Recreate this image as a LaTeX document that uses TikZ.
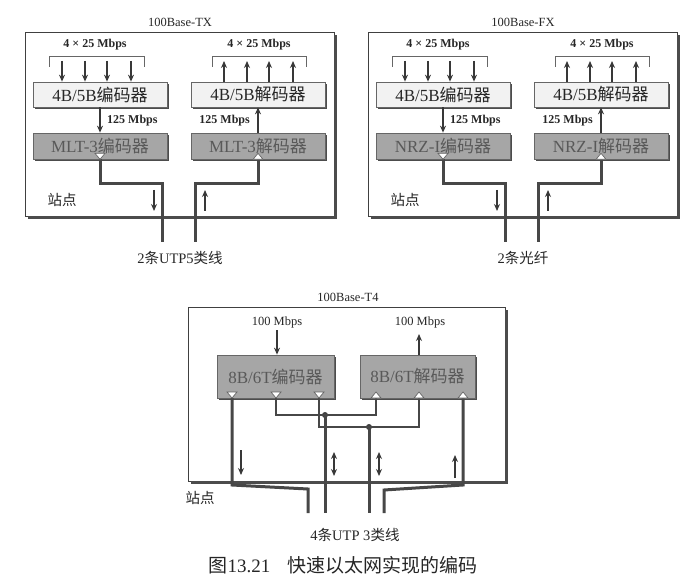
\documentclass[tikz,border=0pt]{standalone}
\usepackage{fontspec}
\setmainfont{Liberation Serif}
\newfontfamily\cjk{Noto Sans CJK SC}
\usetikzlibrary{arrows.meta,shadows}
\tikzset{
  framebox/.style={draw=black!75, line width=0.9pt},
  frameshadow/.style={draw=black!70, line width=2.4pt},
  boxbase/.style={draw=black!60, line width=0.7pt, inner sep=0pt,
     drop shadow={shadow xshift=1.8pt, shadow yshift=-1.8pt, fill=black!70, opacity=1},
     font=\fontsize{17}{20}\selectfont},
  lightbox/.style={boxbase, fill=black!5, text=black!85},
  darkbox/.style={boxbase, fill=black!35, text=black!65},
  rate/.style={font=\fontsize{12}{14}\selectfont\bfseries, text=black!85, inner sep=1pt},
  ratereg/.style={font=\fontsize{12.5}{14}\selectfont, text=black!85, inner sep=1pt},
  ttl/.style={font=\fontsize{12.5}{14}\selectfont, text=black!85, inner sep=1pt},
  lab/.style={font=\fontsize{14.5}{17}\selectfont, text=black!85, inner sep=1pt},
  captext/.style={font=\fontsize{19}{22}\selectfont, text=black!85, inner sep=1pt},
  bracket/.style={draw=black!60, line width=0.7pt},
  sarrow/.style={draw=black!78, line width=1.6pt, -{Stealth[length=7pt,width=6pt]}},
  darrow/.style={draw=black!78, line width=1.6pt, {Stealth[length=7pt,width=6pt]}-{Stealth[length=7pt,width=6pt]}},
  wire/.style={draw=black!72, line width=3pt},
  mwire/.style={draw=black!72, line width=1.9pt},
  tri/.style={draw=black!60, fill=white, line width=0.7pt},
  jdot/.style={circle, fill=black!75, inner sep=0pt, minimum size=6pt}
}
\newcommand{\fepanel}[5]{%
\begin{scope}[xshift=#2pt]
  \node[ttl] (#1title) at (180,22) {#3};
  \node[framebox, minimum width=309pt, minimum height=184pt, inner sep=0pt] (#1frame) at (179.5,124) {};
  \draw[frameshadow] (28,217.4) -- (335.4,217.4) -- (335.4,35);
  \node[rate] (#1inlab) at (95,45) {4 × 25 Mbps};
  \node[rate] (#1outlab) at (259,45) {4 × 25 Mbps};
  \draw[bracket] (49,67) -- (49,56) -- (144,56) -- (144,67);
  \draw[bracket] (212,67) -- (212,56) -- (306,56) -- (306,67);
  \node[lightbox, minimum width=134pt, minimum height=25pt] (#1enc) at (100,94.5) {4B/5B{\cjk 编码器}};
  \node[lightbox, minimum width=134pt, minimum height=25pt] (#1dec) at (258,94.5) {4B/5B{\cjk 解码器}};
  \node[darkbox, minimum width=134pt, minimum height=26pt] (#1lenc) at (100,146) {#4{\cjk 编码器}};
  \node[darkbox, minimum width=134pt, minimum height=26pt] (#1ldec) at (258,146) {#4{\cjk 解码器}};
  \foreach \x in {62,85,107,131} \draw[sarrow] (\x,61) -- (\x,62 |- #1enc.north);
  \foreach \x in {224,247,269,293} \draw[sarrow] (\x,62 |- #1dec.north) -- (\x,61);
  \draw[sarrow] (#1enc.south) -- (#1lenc.north);
  \draw[sarrow] (#1ldec.north) -- (#1dec.south);
  \node[rate, anchor=west] (#1r1) at (106,121) {125 Mbps};
  \node[rate, anchor=east] (#1r2) at (251,121) {125 Mbps};
  \coordinate (#1ca) at (162,242);
  \coordinate (#1cb) at (195,242);
  \draw[wire] (#1lenc.south) -- ++(0,24) -| (#1ca);
  \draw[wire] (#1ldec.south) -- ++(0,24) -| (#1cb);
  \draw[tri] (#1lenc.south) -- ++(-5,-6) -- ++(10,0) -- cycle;
  \draw[tri] ([xshift=-5pt]#1ldec.south) -- ([xshift=5pt]#1ldec.south) -- ([yshift=6pt]#1ldec.south) -- cycle;
  \draw[sarrow] (154,190) -- (154,211);
  \draw[sarrow] (205,211) -- (205,190);
  \node[lab] (#1st) at (62,200) {\cjk 站点};
  \node[lab] (#1cable) at (180,258) {#5};
\end{scope}}
\begin{document}
\begin{tikzpicture}[x=1pt,y=-1pt]
\useasboundingbox[fill=white] (0,0) rectangle (695,585);
\fepanel{tx}{0}{100Base-TX}{MLT-3}{2{\cjk 条}UTP5{\cjk 类线}}
\fepanel{fx}{343}{100Base-FX}{NRZ-I}{2{\cjk 条光纤}}
% 100Base-T4
\node[ttl] (t4title) at (348,297) {100Base-T4};
\node[framebox, minimum width=317pt, minimum height=174pt, inner sep=0pt] (t4frame) at (346.5,394) {};
\draw[frameshadow] (191,482.4) -- (506.4,482.4) -- (506.4,310);
\node[ratereg] (t4in) at (277,322) {100 Mbps};
\node[ratereg] (t4out) at (420,322) {100 Mbps};
\node[darkbox, minimum width=117pt, minimum height=43pt] (t4enc) at (275.5,376.5) {8B/6T{\cjk 编码器}};
\node[darkbox, minimum width=115pt, minimum height=43pt] (t4dec) at (417.5,376.5) {8B/6T{\cjk 解码器}};
\draw[sarrow] (277,330) -- (277,330 |- t4enc.north);
\draw[sarrow] (419,330 |- t4dec.north) -- (419,334);
% junctions and cable ends
\node[jdot] (j1) at (325,415) {};
\node[jdot] (j2) at (369,427) {};
\coordinate (c1) at (308,513);
\coordinate (c2) at (325,513);
\coordinate (c3) at (369,513);
\coordinate (c4) at (384,513);
\draw[mwire] (276,398) -- (276,415) -- (376,415) -- (376,398);
\draw[mwire] (319,398) -- (319,427) -- (419,427) -- (419,398);
\draw[wire] (j1.center) -- (c2);
\draw[wire] (j2.center) -- (c3);
\draw[wire] (232,398) -- (232,485) -- (308,489) -- (c1);
\draw[wire] (463,398) -- (463,485) -- (384,490) -- (c4);
\foreach \x in {232,276,319} \draw[tri] (\x,398) -- ++(-5,-6) -- ++(10,0) -- cycle;
\foreach \x in {376,419,463} \draw[tri] (\x-5,398) -- (\x+5,398) -- (\x,392) -- cycle;
\draw[sarrow] (241,450) -- (241,475);
\draw[darrow] (334,452) -- (334,476);
\draw[darrow] (379,452) -- (379,476);
\draw[sarrow] (455,478) -- (455,455);
\node[lab] (t4st) at (200,498) {\cjk 站点};
\node[lab] (t4cable) at (355,535) {4{\cjk 条}UTP 3{\cjk 类线}};
\node[captext] (caption) at (343,565) {{\cjk 图}13.21\hspace{0.9em}{\cjk 快速以太网实现的编码}};
\end{tikzpicture}
\end{document}
